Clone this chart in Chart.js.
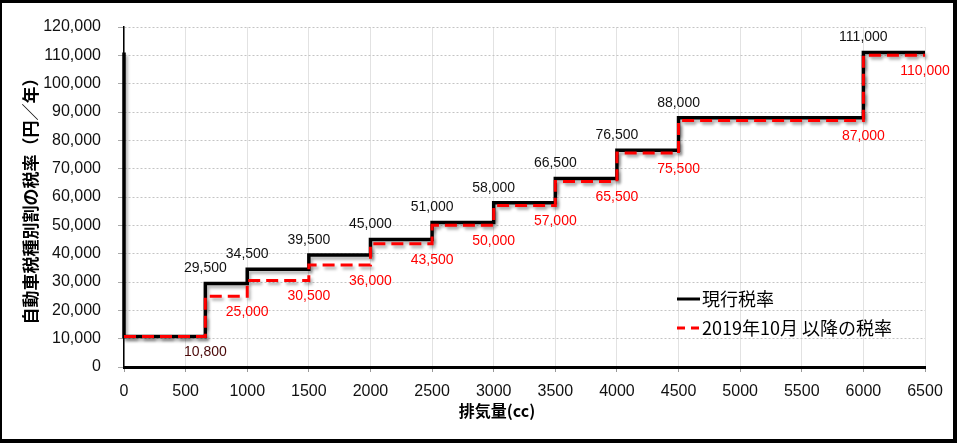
<!DOCTYPE html>
<html lang="ja">
<head>
<meta charset="utf-8">
<title>自動車税種別割の税率</title>
<script src="https://cdn.jsdelivr.net/npm/chart.js@4.4.1/dist/chart.umd.min.js"></script>
<style>
    html, body { margin: 0; padding: 0; background: #fff; }
</style>
</head>
<body>
<canvas id="chart" width="960" height="443"></canvas>
<script>
// 排気量の区切り (cc)
const displacementSteps = [0, 660, 1000, 1500, 2000, 2500, 3000, 3500, 4000, 4500, 6000, 6500];
// 現行税率 (円/年)
const currentRates = [10800, 29500, 34500, 39500, 45000, 51000, 58000, 66500, 76500, 88000, 111000];
// 2019年10月以降の税率 (円/年)
const newRates = [10800, 25000, 30500, 36000, 43500, 50000, 57000, 65500, 75500, 87000, 110000];
// 元のグラフでは黒線が y 軸に沿って 111,000 から下りてくる
const currentLineStart = 111000;

const X_MAX = 6500;
const X_STEP = 500;
const Y_MAX = 120000;
const Y_STEP = 10000;

const NUM_FONT = '"Liberation Sans", Arial, sans-serif';
const JP_FONT = '"Noto Sans CJK JP", sans-serif';

const toSteps = (rates) => rates
    .map((y, i) => ({ x: displacementSteps[i], y }))
    .concat([{ x: displacementSteps[displacementSteps.length - 1], y: rates[rates.length - 1] }]);

const fmt = (v) => v.toLocaleString('en-US');

const lineShadow = {
    id: 'lineShadow',
    beforeDatasetDraw(chart) {
        const ctx = chart.ctx;
        ctx.save();
        ctx.shadowColor = 'rgba(0, 0, 0, 0.3)';
        ctx.shadowBlur = 3;
        ctx.shadowOffsetX = 2;
        ctx.shadowOffsetY = 3;
    },
    afterDatasetDraw(chart) {
        chart.ctx.restore();
    },
};

const valueLabels = {
    id: 'valueLabels',
    afterDatasetsDraw(chart) {
        const { ctx, scales: { x, y } } = chart;
        ctx.save();
        ctx.font = `14px ${NUM_FONT}`;
        ctx.textAlign = 'center';
        ctx.textBaseline = 'middle';

        // 現行税率: 区間の始まりの上
        ctx.fillStyle = '#111';
        currentRates.forEach((v, i) => {
            if (i === 0) return;
            ctx.fillText(fmt(v), x.getPixelForValue(displacementSteps[i]), y.getPixelForValue(v) - 15);
        });

        // 新税率: 区間の終わりの下
        newRates.forEach((v, i) => {
            ctx.fillStyle = i === 0 ? '#4a0808' : '#ff0000';
            ctx.fillText(fmt(v), x.getPixelForValue(displacementSteps[i + 1]), y.getPixelForValue(v) + 16);
        });
        ctx.restore();
    },
};

const legendBox = {
    id: 'legendBox',
    afterDraw(chart) {
        const ctx = chart.ctx;
        ctx.save();
        ctx.lineWidth = 3;

        ctx.strokeStyle = '#000';
        ctx.beginPath();
        ctx.moveTo(677, 299);
        ctx.lineTo(700, 299);
        ctx.stroke();

        ctx.strokeStyle = '#ff0000';
        ctx.setLineDash([8, 6]);
        ctx.beginPath();
        ctx.moveTo(677, 328);
        ctx.lineTo(700, 328);
        ctx.stroke();
        ctx.setLineDash([]);

        ctx.fillStyle = '#000';
        ctx.font = `18px ${JP_FONT}`;
        ctx.textAlign = 'left';
        ctx.textBaseline = 'middle';
        ctx.fillText('現行税率', 702, 299);
        ctx.fillText('2019年10月 以降の税率', 702, 328);
        ctx.restore();
    },
};

const frameAndTitle = {
    id: 'frameAndTitle',
    afterDraw(chart) {
        const ctx = chart.ctx;
        ctx.save();
        ctx.fillStyle = '#000';
        ctx.fillRect(0, 0, 957, 3);
        ctx.fillRect(0, 439, 957, 4);
        ctx.fillRect(0, 0, 2, 443);
        ctx.fillRect(953, 0, 4, 443);

        ctx.font = `bold 16px ${JP_FONT}`;
        ctx.textAlign = 'center';
        ctx.textBaseline = 'middle';
        ctx.fillText('排気量(cc)', 497, 411);
        ctx.restore();
    },
};

new Chart(document.getElementById('chart'), {
    type: 'line',
    data: {
        datasets: [
            {
                label: '現行税率',
                data: [{ x: 0, y: currentLineStart }, ...toSteps(currentRates)],
                borderColor: '#000',
                borderWidth: 3.5,
                stepped: 'before',
                pointRadius: 0,
                clip: false,
                order: 1,
            },
            {
                label: '2019年10月以降の税率',
                data: toSteps(newRates),
                borderColor: '#ff0000',
                borderWidth: 3,
                borderDash: [12, 6],
                stepped: 'before',
                pointRadius: 0,
                clip: false,
                order: 0,
            },
        ],
    },
    options: {
        responsive: false,
        animation: false,
        layout: { padding: { top: 27, right: 35, left: 0, bottom: 0 } },
        plugins: {
            legend: { display: false },
            tooltip: { enabled: false },
        },
        scales: {
            x: {
                type: 'linear',
                min: 0,
                max: X_MAX,
                afterFit(scale) { scale.height = 76; },
                ticks: {
                    stepSize: X_STEP,
                    color: '#111',
                    padding: 10,
                    maxRotation: 0,
                    font: { family: NUM_FONT, size: 16 },
                    callback: (v) => String(v),
                },
                grid: {
                    color: '#e2e2e2',
                    tickColor: '#999',
                    tickLength: 5,
                },
                border: { color: '#000', width: 3 },
            },
            y: {
                min: 0,
                max: Y_MAX,
                afterFit(scale) { scale.width = 124; },
                ticks: {
                    stepSize: Y_STEP,
                    color: '#111',
                    padding: 17,
                    font: { family: NUM_FONT, size: 16 },
                    callback: (v) => fmt(v),
                },
                grid: {
                    color: '#c4c4c4',
                    tickColor: '#aaa',
                    tickLength: 6,
                },
                border: { color: '#000', width: 1.5, dash: [2, 2] },
                title: {
                    display: true,
                    text: '自動車税種別割の税率（円／年）',
                    color: '#000',
                    font: { family: JP_FONT, size: 17, weight: 'bold' },
                    padding: { top: 20, bottom: 0 },
                },
            },
        },
    },
    plugins: [lineShadow, valueLabels, legendBox, frameAndTitle],
});
</script>
</body>
</html>
